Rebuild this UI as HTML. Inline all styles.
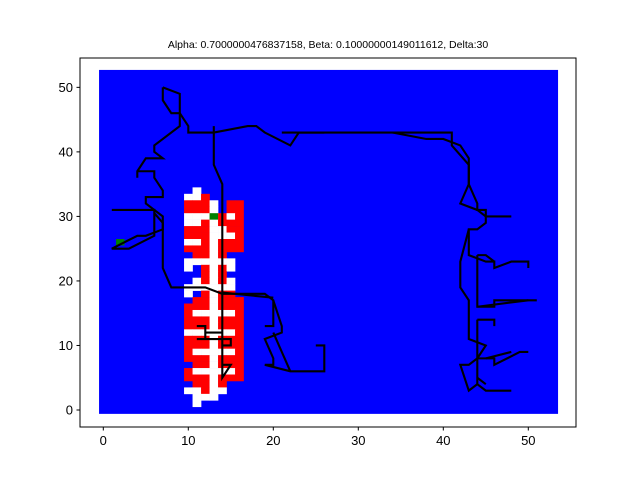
<!DOCTYPE html>
<html><head><meta charset="utf-8"><style>
body{margin:0;background:#fff;}
svg{display:block;font-family:"Liberation Sans","DejaVu Sans",sans-serif;}
</style></head><body>
<svg id="chart" width="640" height="480" viewBox="0 0 640 480" xmlns="http://www.w3.org/2000/svg">
<text x="328" y="48" font-size="10.5" text-anchor="middle" fill="#000">Alpha: 0.7000000476837158, Beta: 0.10000000149011612, Delta:30</text>
<g id="plot"></g>
</svg>
<script>
const xTicks=[0,10,20,30,40,50];
const yTicks=[0,10,20,30,40,50];
const gridExtent=[-0.5,53.5,-0.6,52.7];
const cellColsStart=10;
const cellRowsTop=34;
const cellRows=[
".W.....","WWR....","RRRW.RR","RRRW.RR","WWWWRWR","WWRWRRR","RRRWWRR","RRRWWWR","WWRWRRR","RRRWRRR",
".RRWR..","WWWWWW.","W.RWRW.","..RWR..",".WRWRW.","WWWWWW.","W.RWRR.",".RRWRRR","RRRWRRR","RWWWWWR",
"RRRWRRR","RRRWRRR","WWWWWWR","RRRWRRR","RRRWRRR","RWWWWWR","RRRWRRR",".RRWRRR","RWWWWWR","RRRWRRR",
".RRWR..","WWRWW..",".WWW...",".W....."];
const greenCells=[[13,30],[2,26]];
const paths=[
[[7,50],[9,49],[9,44],[6,41],[6,40],[7,39],[5,39],[4,37],[4,36]],
[[4,37],[6,37],[6,36],[7,34],[7,33],[5,33],[5,32],[6,31]],
[[7,50],[7,48],[8,46],[9,46],[10,44],[10,43],[13,43],[17,44],[18,44],[19,43],[22,41],[23,43],[26,43]],
[[21,43],[41,43],[41,41],[43,38],[43,35],[42,32],[44,31],[45,30],[48,30]],
[[34,43],[38,42],[40,42],[42,41],[43,39],[43,35],[44,32],[44,31],[45,31],[45,29],[44,28],[43,28],[43,24],[45,23],[46,23],[46,22],[48,23],[50,23],[50,22]],
[[44,24],[45,24],[46,23]],
[[44,24],[44,16],[46,16],[46,17],[51,17]],[[44,16],[50,17]],
[[43,28],[42,23],[42,19],[43,17],[43,11],[45,10],[44,8],[43,7],[42,7],[43,3],[44,4],[45,3],[48,3]],
[[44,14],[46,14],[46,13]],[[44,14],[44,4]],
[[44,8],[46,8],[46,7],[49,9],[50,9]],[[45,8],[48,9]],[[44,5],[45,4]],
[[1,31],[6,31],[6,27],[3,25],[1,25],[4,27],[5,27],[7,28],[7,29],[6,30.5]],
[[6,31],[7,30],[7,22],[8,19],[12,19],[14,18],[19,18],[20,17],[20,13],[19,13]],
[[14,18.2],[20,17.4]],
[[20,17],[21,13],[21,12],[19,11],[20,8],[20,7],[19,7],[22,6],[26,6],[26,10],[25,10]],
[[20,12],[22,6]],
[[13,44],[13,38],[14,35],[14,5],[15,7],[14,7]],
[[11,13],[12,13],[12,11],[11,11],[15,11],[15,10],[14,10]],
[[12,12],[13,12],[14,12]]
];
const NS="http://www.w3.org/2000/svg";
const svg=document.getElementById('plot');
const X0=103.3,KX=8.5,Y0=410,KY=6.453;
function sx(v){return X0+v*KX;}
function sy(v){return Y0-v*KY;}
function mk(t,a,p){const e=document.createElementNS(NS,t);for(const k in a)e.setAttribute(k,a[k]);(p||svg).appendChild(e);return e;}
const bg=mk('rect',{x:sx(gridExtent[0]),y:sy(gridExtent[3]),width:(gridExtent[1]-gridExtent[0])*KX,height:(gridExtent[3]-gridExtent[2])*KY,fill:'#0000ff'});


cellRows.forEach((row,i)=>{const v=cellRowsTop-i;[...row].forEach((c,j)=>{if(c==='.')return;const u=cellColsStart+j;
const r=mk('rect',{x:sx(u-0.5),y:sy(v+0.5),width:KX+0.3,height:KY+0.3,fill:c==='R'?'#ff0000':'#ffffff'});

});});
greenCells.forEach(g=>{const r=mk('rect',{x:sx(g[0]-0.5),y:sy(g[1]+0.5),width:KX,height:KY,fill:'#008000'});

});
paths.forEach(p=>{const l=mk('polyline',{points:p.map(q=>sx(q[0])+','+sy(q[1])).join(' '),fill:'none',stroke:'#000','stroke-width':2.1,'stroke-linejoin':'miter'});

});
const fr=mk('rect',{x:80,y:58,width:496,height:369,fill:'none',stroke:'#000','stroke-width':1});


xTicks.forEach(t=>{mk('line',{x1:sx(t),x2:sx(t),y1:427,y2:430.5,stroke:'#000'});
const tx=mk('text',{x:sx(t),y:445,'font-size':13,'text-anchor':'middle'});tx.textContent=t;

});
yTicks.forEach(t=>{mk('line',{x1:76.5,x2:80,y1:sy(t),y2:sy(t),stroke:'#000'});
const tx=mk('text',{x:73,y:sy(t)+4.5,'font-size':13,'text-anchor':'end'});tx.textContent=t;

});
</script>
</body></html>
